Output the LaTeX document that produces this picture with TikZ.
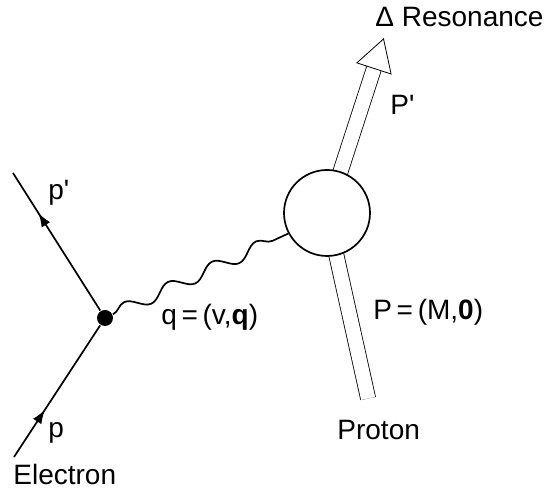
\documentclass[tikz,border=0pt]{standalone}
\usepackage{fontspec}
\setmainfont{Liberation Sans}
\usetikzlibrary{arrows.meta, decorations.pathmorphing, decorations.markings, backgrounds, calc}

\begin{document}
\begin{tikzpicture}[
  x=0.5pt, y=0.5pt,
  font=\fontsize{14}{17}\selectfont,
  line width=0.85pt,
  >=Latex,
  vertex/.style={circle, fill=black, inner sep=0pt, minimum size=8pt},
  blob/.style={circle, draw, fill=white, inner sep=0pt, minimum size=43pt},
  fermion/.style={
    postaction={decorate},
    decoration={markings, mark=at position #1 with {\arrow{Latex[length=7pt,width=5pt]}}}
  },
  photon/.style={decorate, decoration={snake, segment length=24.2pt, amplitude=3.2pt}},
  hadron/.style={double, double distance=7.15pt},
  lbl/.style={anchor=base west, inner sep=0pt}
]
\useasboundingbox (0,0) rectangle (548,490);

\node[vertex] (vtx) at (105,172) {};
\node[blob] (res) at (327,277) {};

\coordinate (ein) at (14,33);
\coordinate (eout) at (13,317);
\coordinate (ptop) at ($(res.center)+(72:152)$);
\coordinate (ptip) at ($(res.center)+(72:183)$);
\coordinate (pbot) at ($(res.center)+(-77.5:190)$);

% electron lines
\draw[fermion=0.36] (ein) -- (vtx);
\draw[fermion=0.71] (vtx) -- (eout);

% virtual photon
\draw[photon] (vtx) -- (res.208);

% hadron lines, kept behind the blob
\begin{pgfonlayer}{background}
\draw[hadron] (res.center) -- (ptop);
\draw[hadron] (res.center) -- (pbot);
\end{pgfonlayer}
\draw[fill=white] (ptip) -- ($(ptop)+(162:18)$) -- ($(ptop)+(-18:18)$) -- cycle;

\node[lbl] (reslbl) at (375,463) {Δ Resonance};
\node[lbl] (pplbl) at (390,375) {P\textquotesingle};
\node[lbl] (poutlbl) at (48,290) {p\textquotesingle};
\node[lbl] (pinlbl) at (48,52) {p};
\node[lbl] (elbl) at (13,5) {Electron};
\node[lbl] (qlbl) at (161,165) {q\,=\,(v,\textbf{q})};
\node[lbl] (plbl) at (373,170) {P\,=\,(M,\textbf{0})};
\node[lbl] (prlbl) at (337,50) {Proton};

\end{tikzpicture}
\end{document}
